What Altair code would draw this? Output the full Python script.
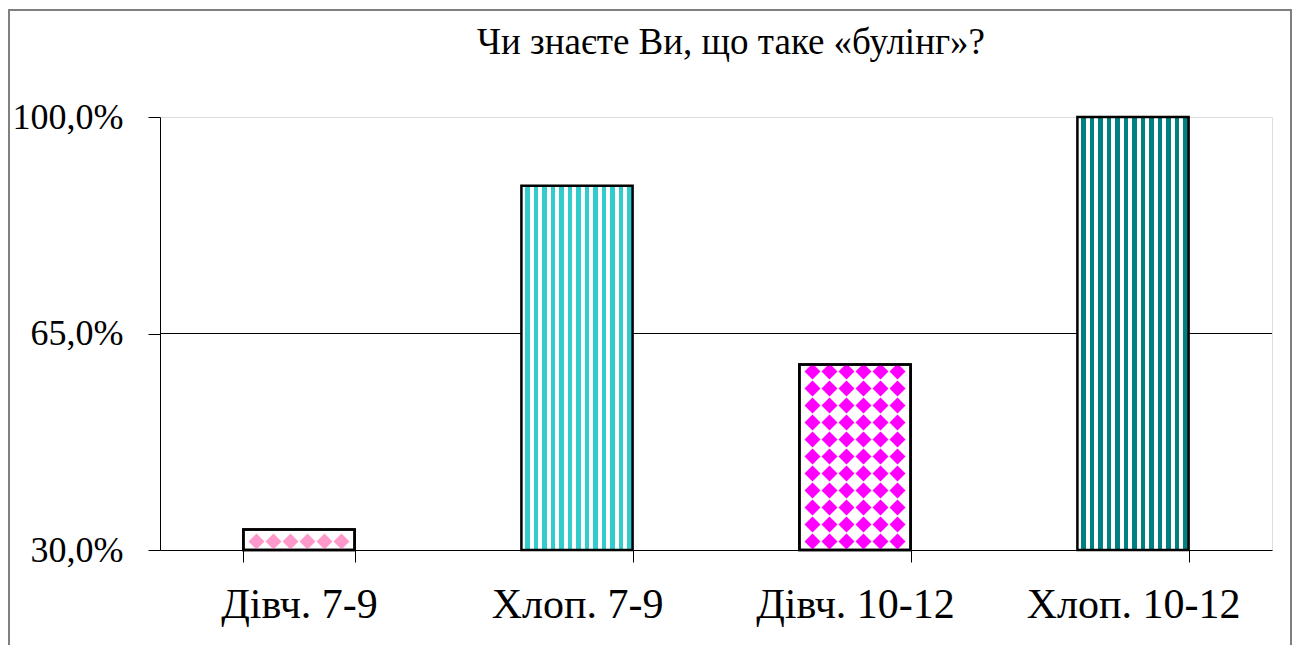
import altair as alt
import pandas as pd

# ---- data ----
categories = ["Дівч. 7-9", "Хлоп. 7-9", "Дівч. 10-12", "Хлоп. 10-12"]
values = [33.3, 88.9, 60.0, 100.0]
kinds = ["diamond", "stripe", "diamond", "stripe"]
bar_colors = ["#FF99CC", "#33CCCC", "#FF00FF", "#008080"]
y_ticks = [30, 65, 100]
grid_values = [65]
title_text = "Чи знаєте Ви, що таке «булінг»?"

# ---- layout / style ----
W, H = 1112, 433
Y_MIN, Y_MAX = 30, 100
FONT = "Liberation Serif"
PPU = H / (Y_MAX - Y_MIN)  # pixels per percent
STEP = W / 4
BAND_W = STEP * 0.4

df = pd.DataFrame({"cat": categories, "val": values, "kind": kinds, "color": bar_colors})

x_axis = alt.Axis(title=None, labelFontSize=42, labelFont=FONT, labelColor="black",
                  labelAngle=0, labelPadding=55, labelBaseline="alphabetic",
                  tickBand="extent", tickSize=12, tickColor="black",
                  domainColor="black", grid=False, labelFlush=False, labelLimit=0)
y_axis = alt.Axis(title=None, values=y_ticks,
                  labelExpr="replace(format(datum.value, '.1f'), '.', ',') + '%'",
                  labelFontSize=36, labelFont=FONT, labelColor="black",
                  labelPadding=25, tickSize=12, tickColor="black",
                  domainColor="black", grid=False, labelFlush=False, labelLimit=0)
x_scale = alt.Scale(paddingInner=0.6, paddingOuter=0.3)
y_scale = alt.Scale(domain=[Y_MIN, Y_MAX], nice=False, zero=False)


def X():
    return alt.X("cat:N", sort=categories, scale=x_scale, axis=x_axis)


def Y(field):
    return alt.Y(field, scale=y_scale, axis=y_axis)


def stripes(color, bw=BAND_W, period=8.5, stripe=4.5, phase=4.0):
    stops = [alt.GradientStop(offset=0, color="white")]
    p = phase
    while p < bw:
        s = p / bw
        e = min(p + stripe, bw) / bw
        stops += [alt.GradientStop(offset=s, color="white"),
                  alt.GradientStop(offset=s, color=color),
                  alt.GradientStop(offset=e, color=color),
                  alt.GradientStop(offset=e, color="white")]
        p += period
    stops.append(alt.GradientStop(offset=1, color="white"))
    return alt.LinearGradient(gradient="linear", stops=stops, x1=0, x2=1, y1=0, y2=0)


# diamond lattice decoration for the "Дівч." bars (offsets from band start)
col_offsets = [BAND_W / 2 + o for o in (-42.5, -25.5, -8.5, 8.5, 25.5, 42.5)]
prow = []
for c, v, k, col in zip(categories, values, kinds, bar_colors):
    if k != "diamond":
        continue
    r = 0
    while True:
        yc = Y_MIN + (8.5 + 17 * r) / PPU
        if yc + 6.5 / PPU > v + 1e-9:
            break
        for off in col_offsets:
            prow.append({"cat": c, "py": yc, "off": off, "color": col})
        r += 1
pdf = pd.DataFrame(prow)

border = alt.Chart(df).mark_rect(fill="transparent", stroke="#808080", strokeWidth=1.5).encode(
    x=alt.value(-151), x2=alt.value(1131), y=alt.value(-107), y2=alt.value(560))

grid = alt.Chart(pd.DataFrame({"g": grid_values})).mark_rule(color="black", strokeWidth=1).encode(
    y=Y("g:Q"))

d_bars = alt.Chart(df).transform_filter("datum.kind == 'diamond'").mark_bar(
    fill="white", stroke="black", strokeWidth=2.5, width=BAND_W).encode(
    x=X(), y=Y("val:Q"), y2=alt.datum(Y_MIN))

points = alt.Chart(pdf).mark_point(shape="diamond", filled=True, size=256, opacity=1,
                                   strokeWidth=0).encode(
    x=X(), y=Y("py:Q"),
    xOffset=alt.XOffset("off:Q", scale=alt.Scale(domain=[0, STEP], range=[0, STEP])),
    fill=alt.Fill("color:N", scale=None))

d_outline = alt.Chart(df).transform_filter("datum.kind == 'diamond'").mark_bar(
    fill="transparent", stroke="black", strokeWidth=2.5, width=BAND_W).encode(
    x=X(), y=Y("val:Q"), y2=alt.datum(Y_MIN))

stripe_layers = []
for c, k, col in zip(categories, kinds, bar_colors):
    if k != "stripe":
        continue
    stripe_layers.append(
        alt.Chart(df).transform_filter(alt.datum.cat == c).mark_bar(
            fill=stripes(col), stroke="black", strokeWidth=2.5, width=BAND_W).encode(
            x=X(), y=Y("val:Q"), y2=alt.datum(Y_MIN)))

title = alt.Chart(pd.DataFrame({"t": [title_text]})).mark_text(
    font=FONT, fontSize=37, color="black", align="center", baseline="alphabetic").encode(
    text="t:N", x=alt.value(571), y=alt.value(-63))

chart = alt.layer(border, grid, d_bars, points, d_outline, *stripe_layers, title).properties(
    width=W, height=H,
    padding={"left": 152, "top": 109, "right": 20, "bottom": 95},
    autosize=alt.AutoSizeParams(type="none"),
).configure_view(stroke=None).configure(font=FONT)

chart.save("out.html", embed_options={"renderer": "svg", "actions": False})
